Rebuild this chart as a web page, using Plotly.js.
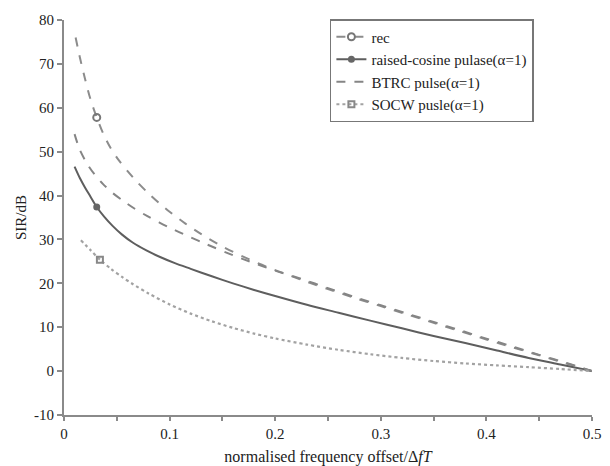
<!DOCTYPE html>
<html>
<head>
<meta charset="utf-8">
<script src="https://cdn.plot.ly/plotly-3.0.1.min.js"></script>
<style>html,body{margin:0;padding:0;background:#fff;}#chart{width:610px;height:466px;}</style>
</head>
<body>
<div id="chart"></div>
<script>
// Series names
const seriesNames = ["rec", "raised-cosine pulase(\u03b1=1)", "BTRC pulse(\u03b1=1)", "SOCW pusle(\u03b1=1)"];

// rec
const recX = [0.011, 0.015, 0.020, 0.025, 0.031, 0.037, 0.044, 0.052, 0.060, 0.070, 0.080, 0.090, 0.100, 0.115, 0.130, 0.150, 0.175, 0.200, 0.225, 0.250, 0.275, 0.300, 0.325, 0.350, 0.375, 0.400, 0.425, 0.450, 0.475, 0.500];
const recY = [76.0, 71.5, 66.5, 62.0, 57.8, 54.2, 50.9, 48.0, 45.6, 42.9, 40.5, 38.3, 36.3, 33.6, 31.2, 28.4, 25.5, 23.0, 20.8, 18.7, 16.7, 14.8, 12.9, 11.0, 9.1, 7.2, 5.4, 3.6, 1.8, 0.0];
// raised-cosine
const rcX = [0.010, 0.015, 0.020, 0.025, 0.031, 0.038, 0.046, 0.055, 0.065, 0.078, 0.091, 0.105, 0.120, 0.140, 0.160, 0.180, 0.200, 0.230, 0.260, 0.290, 0.320, 0.350, 0.380, 0.410, 0.440, 0.470, 0.500];
const rcY = [46.6, 44.0, 41.8, 39.8, 37.4, 35.2, 33.1, 31.1, 29.3, 27.5, 26.0, 24.6, 23.3, 21.6, 20.0, 18.5, 17.1, 15.1, 13.3, 11.5, 9.75, 8.0, 6.4, 4.7, 3.0, 1.5, 0.0];
// BTRC
const btX = [0.010, 0.015, 0.022, 0.029, 0.037, 0.046, 0.056, 0.067, 0.079, 0.090, 0.100, 0.117, 0.135, 0.160, 0.180, 0.200, 0.225, 0.250, 0.275, 0.300, 0.325, 0.350, 0.375, 0.400, 0.425, 0.450, 0.475, 0.500];
const btY = [54.0, 50.4, 47.2, 44.8, 42.6, 40.6, 38.8, 37.0, 35.3, 33.9, 32.7, 30.8, 28.9, 26.4, 24.6, 22.9, 21.0, 18.9, 16.9, 15.0, 13.1, 11.2, 9.3, 7.4, 5.6, 3.7, 1.9, 0.0];
// SOCW
const soX = [0.016, 0.025, 0.034, 0.045, 0.055, 0.065, 0.080, 0.100, 0.120, 0.140, 0.160, 0.180, 0.200, 0.230, 0.260, 0.290, 0.320, 0.350, 0.380, 0.410, 0.440, 0.470, 0.500];
const soY = [29.8, 27.6, 25.4, 23.2, 21.45, 19.85, 17.7, 15.2, 13.1, 11.35, 9.85, 8.55, 7.45, 6.05, 4.85, 3.85, 3.0, 2.3, 1.75, 1.3, 0.9, 0.48, 0.0];

// single marker points on each marked curve
const recMark = [0.031, 57.8];
const rcMark = [0.031, 37.4];
const soMark = [0.034, 25.4];

// axis ticks
const xTicks = [0, 0.1, 0.2, 0.3, 0.4, 0.5];
const xTickText = ["0", "0.1", "0.2", "0.3", "0.4", "0.5"];
const yTicks = [-10, 0, 10, 20, 30, 40, 50, 60, 70, 80];
const yTickText = ["-10", "0", "10", "20", "30", "40", "50", "60", "70", "80"];

const cRec = "#8c8c8c", cRc = "#5e5e5e", cBt = "#858585", cSo = "#a2a2a2";
const spl = {shape: "spline", smoothing: 0.8};

const traces = [
  {x: recX, y: recY, mode: "lines", line: Object.assign({color: cRec, width: 2, dash: "dash"}, spl), showlegend: false},
  {x: rcX, y: rcY, mode: "lines", line: Object.assign({color: cRc, width: 2}, spl), showlegend: false},
  {x: btX, y: btY, mode: "lines", line: Object.assign({color: cBt, width: 2, dash: "dash"}, spl), showlegend: false},
  {x: soX, y: soY, mode: "lines", line: Object.assign({color: cSo, width: 2.2, dash: "dot"}, spl), showlegend: false},
  {x: [recMark[0]], y: [recMark[1]], name: seriesNames[0], mode: "lines+markers",
   line: {color: cRec, width: 2, dash: "dash"},
   marker: {symbol: "circle-open", size: 7, color: "#777", line: {width: 2}}},
  {x: [rcMark[0]], y: [rcMark[1]], name: seriesNames[1], mode: "lines+markers",
   line: {color: cRc, width: 2},
   marker: {symbol: "circle", size: 7, color: "#666"}},
  {x: [null], y: [null], name: seriesNames[2], mode: "lines",
   line: {color: cBt, width: 2, dash: "dash"}},
  {x: [soMark[0]], y: [soMark[1]], name: seriesNames[3], mode: "lines+markers",
   line: {color: cSo, width: 2.2, dash: "dot"},
   marker: {symbol: "square-open", size: 6, color: "#888", line: {width: 2}}}
];

const fontFam = "Liberation Serif, Times New Roman, serif";

const layout = {
  width: 610, height: 466,
  margin: {l: 64, r: 18, t: 14, b: 51},
  paper_bgcolor: "#fff", plot_bgcolor: "#fff",
  font: {family: fontFam, size: 14, color: "#222"},
  showlegend: true,
  legend: {
    x: 0.5036, xanchor: "left", xref: "paper",
    y: 1.0025, yanchor: "top",
    bgcolor: "#fff", bordercolor: "#777", borderwidth: 1.5,
    font: {family: fontFam, size: 15, color: "#222"},
    tracegroupgap: 0, itemwidth: 30,
    entrywidth: 245, entrywidthmode: "pixels"
  },
  xaxis: {
    range: [0, 0.5], tickvals: xTicks, ticktext: xTickText,
    showgrid: false, zeroline: false,
    showline: true, linecolor: "#8a8a8a", linewidth: 2,
    ticks: "outside", ticklen: 4, tickwidth: 2, tickcolor: "#8a8a8a",
    minor: {dtick: 0.05, ticks: "outside", ticklen: 4, tickwidth: 2, tickcolor: "#8a8a8a"},
    tickfont: {family: fontFam, size: 15, color: "#222"},
    title: {text: "normalised frequency offset/\u0394<i>fT</i>", font: {family: fontFam, size: 16, color: "#222"}}
  },
  yaxis: {
    range: [-10, 80], tickvals: yTicks, ticktext: yTickText,
    showgrid: false, zeroline: false,
    showline: true, linecolor: "#8a8a8a", linewidth: 2,
    ticks: "outside", ticklen: 5, tickwidth: 2, tickcolor: "#8a8a8a",
    tickfont: {family: fontFam, size: 15, color: "#222"},
    automargin: true,
    title: {text: "SIR/dB", font: {family: fontFam, size: 15, color: "#222"}, standoff: 4}
  }
};

Plotly.newPlot("chart", traces, layout, {staticPlot: true, displayModeBar: false});
</script>
</body>
</html>
